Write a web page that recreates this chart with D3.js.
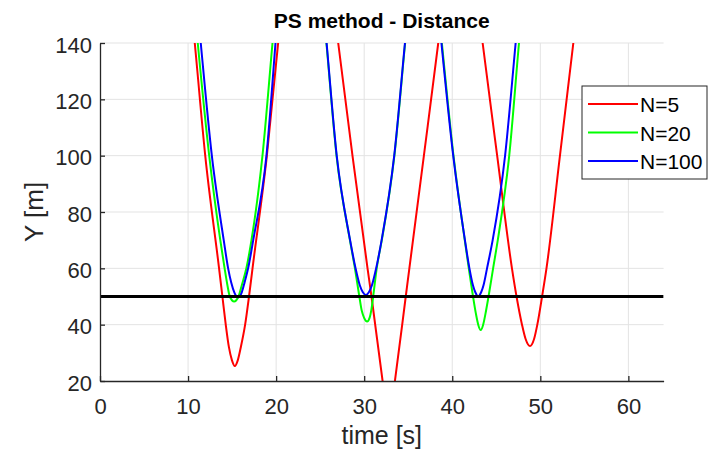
<!DOCTYPE html>
<html>
<head>
<meta charset="utf-8">
<script src="https://cdn.jsdelivr.net/npm/d3@7"></script>
<style>
  body { margin: 0; background: #fff; }
  text { font-family: 'Liberation Sans', Arial, sans-serif; }
</style>
</head>
<body>
<div id="chart"></div>
<script>
var timeTicks = [0, 10, 20, 30, 40, 50, 60]
var distTicks = [20, 40, 60, 80, 100, 120, 140]
var seriesNames = ['N=5', 'N=20', 'N=100']
var seriesColors = ['#ff0000', '#00ff00', '#0000ff']
var refLevel = 50

// N=5 (null splits the dips, the parts above 140 are off the chart)
var timeN5 = [10.45, 10.76, 11.95, 13.52, 13.90, 14.28, 14.64, 14.97, 15.31, 15.66, 15.99, 16.48, 16.92, 17.32, 18.95, 20.23, 20.53, null,
  26.66, 27.05, 28.67, 30.38, 30.83, 32.09, 32.45, 32.79, 33.13, 33.49, 34.72, 35.13, 36.78, 38.41, 38.80, null,
  43.05, 43.45, 45.10, 46.78, 47.30, 47.92, 48.32, 48.83, 49.30, 49.66, 50.20, 50.70, 52.23, 53.75, 54.13]
var distN5 = [150, 140, 100, 60, 50, 40, 32, 27.5, 25.3, 27.5, 32, 40, 50, 60, 100, 140, 150, null,
  150, 140, 100, 60, 50, 20, 12, 8, 12, 20, 50, 60, 100, 140, 150, null,
  150, 140, 100, 60, 50, 40, 35, 32.4, 35, 40, 50, 60, 100, 140, 150]

// N=20
var timeN20 = [10.80, 11.10, 12.40, 13.66, 14.15, 14.47, 14.74, 15.23, 15.72, 16.10, 16.62, 17.20, 18.45, 19.59, 19.88, null,
  25.42, 25.71, 26.86, 28.38, 28.95, 29.45, 29.72, 29.98, 30.33, 30.62, 30.80, 31.02, 31.42, 32.00, 33.43, 34.65, 34.96, null,
  38.50, 38.82, 40.14, 41.42, 41.88, 42.36, 42.68, 42.95, 43.23, 43.51, 43.78, 44.12, 44.64, 45.17, 46.47, 47.58, 47.87]
var distN20 = [150, 140, 100, 70, 60, 54, 50, 48.2, 50, 54, 60, 70, 100, 140, 150, null,
  150, 140, 100, 70, 60, 50, 45, 42.5, 41.1, 42.5, 45, 50, 60, 70, 100, 140, 150, null,
  150, 140, 100, 70, 60, 50, 44, 40, 38.1, 40, 44, 50, 60, 70, 100, 140, 150]

// N=100
var timeN100 = [11.14, 11.44, 12.70, 14.05, 14.55, 14.90, 15.25, 15.68, 16.10, 16.42, 16.82, 17.40, 18.90, 19.93, 20.18, null,
  25.44, 25.73, 26.88, 28.40, 29.02, 29.50, 29.85, 30.19, 30.53, 30.88, 31.36, 31.98, 33.41, 34.63, 34.94, null,
  38.45, 38.77, 40.11, 41.44, 41.95, 42.35, 42.62, 42.95, 43.28, 43.55, 43.95, 44.59, 46.00, 47.20, 47.50]
var distN100 = [150, 140, 100, 70, 60, 55, 51.5, 49.7, 51.5, 55, 60, 70, 100, 140, 150, null,
  150, 140, 100, 70, 60, 54, 51.5, 50.5, 51.5, 54, 60, 70, 100, 140, 150, null,
  150, 140, 100, 70, 60, 54, 51.5, 50, 51.5, 54, 60, 70, 100, 140, 150]

var seriesTimes = [timeN5, timeN20, timeN100]
var seriesDists = [distN5, distN20, distN100]

var width = 723
var height = 453
var plotLeft = 100
var plotRight = 663.6
var plotTop = 43
var plotBottom = 381
var axisColor = '#262626'

var x = d3.scaleLinear().domain([0, 64]).range([plotLeft, plotRight])
var y = d3.scaleLinear().domain([20, 140]).range([plotBottom, plotTop])

var svg = d3.select('#chart').append('svg')
  .attr('width', width)
  .attr('height', height)

svg.append('defs').append('clipPath')
  .attr('id', 'plotClip')
  .append('rect')
  .attr('x', plotLeft)
  .attr('y', plotTop)
  .attr('width', plotRight - plotLeft)
  .attr('height', plotBottom - plotTop)

// grid
var grid = svg.append('g').attr('class', 'grid')
grid.selectAll('line.gx')
  .data(timeTicks.filter(function (d) { return d > 0 }))
  .enter().append('line')
  .attr('class', 'gx')
  .attr('x1', function (d) { return x(d) })
  .attr('x2', function (d) { return x(d) })
  .attr('y1', plotTop)
  .attr('y2', plotBottom)
  .attr('stroke', '#e3e3e3')
  .attr('stroke-width', 1)
grid.selectAll('line.gy')
  .data(distTicks.filter(function (d) { return d > 20 }))
  .enter().append('line')
  .attr('class', 'gy')
  .attr('x1', plotLeft)
  .attr('x2', plotRight)
  .attr('y1', function (d) { return y(d) })
  .attr('y2', function (d) { return y(d) })
  .attr('stroke', '#e3e3e3')
  .attr('stroke-width', 1)

// curves
var line = d3.line()
  .defined(function (d) { return d.t != null })
  .x(function (d) { return x(d.t) })
  .y(function (d) { return y(d.v) })
  .curve(d3.curveMonotoneX)

var plot = svg.append('g').attr('clip-path', 'url(#plotClip)')
seriesNames.forEach(function (name, i) {
  var pts = seriesTimes[i].map(function (t, k) { return { t: t, v: seriesDists[i][k] } })
  plot.append('path')
    .datum(pts)
    .attr('d', line)
    .attr('fill', 'none')
    .attr('stroke', seriesColors[i])
    .attr('stroke-width', 2)
})

plot.append('line')
  .attr('x1', x(0))
  .attr('x2', x(64))
  .attr('y1', y(refLevel))
  .attr('y2', y(refLevel))
  .attr('stroke', '#000')
  .attr('stroke-width', 3)

// axes
var xAxis = d3.axisBottom(x).tickValues(timeTicks).tickSizeInner(-5).tickSizeOuter(0).tickPadding(17)
var yAxis = d3.axisLeft(y).tickValues(distTicks).tickSizeInner(-5).tickSizeOuter(0).tickPadding(8)

var gx = svg.append('g')
  .attr('transform', 'translate(0,' + plotBottom + ')')
  .call(xAxis)
var gy = svg.append('g')
  .attr('transform', 'translate(' + plotLeft + ',0)')
  .call(yAxis)

;[gx, gy].forEach(function (g) {
  g.select('.domain').attr('stroke', axisColor).attr('stroke-width', 1.3)
  g.selectAll('.tick line').attr('stroke', axisColor).attr('stroke-width', 1.3)
  g.selectAll('.tick text')
    .attr('fill', axisColor)
    .style('font-size', '22px')
    .style('font-family', "'Liberation Sans', Arial, sans-serif")
})
gy.selectAll('.tick text').attr('dy', '0.42em')

svg.append('text')
  .attr('x', (plotLeft + plotRight) / 2)
  .attr('y', 444)
  .attr('text-anchor', 'middle')
  .attr('fill', axisColor)
  .style('font-size', '25px')
  .text('time [s]')

svg.append('text')
  .attr('transform', 'translate(43,' + ((plotTop + plotBottom) / 2) + ') rotate(-90)')
  .attr('text-anchor', 'middle')
  .attr('fill', axisColor)
  .style('font-size', '26px')
  .text('Y [m]')

svg.append('text')
  .attr('x', (plotLeft + plotRight) / 2)
  .attr('y', 28)
  .attr('text-anchor', 'middle')
  .attr('fill', '#000')
  .style('font-size', '21px')
  .style('font-weight', 'bold')
  .text('PS method - Distance')

// legend
var legend = svg.append('g').attr('transform', 'translate(582,86)')
legend.append('rect')
  .attr('width', 125)
  .attr('height', 93)
  .attr('fill', '#fff')
  .attr('stroke', '#262626')
  .attr('stroke-width', 1)
seriesNames.forEach(function (name, i) {
  var ly = 18 + i * 28.5
  legend.append('line')
    .attr('x1', 6)
    .attr('x2', 56)
    .attr('y1', ly)
    .attr('y2', ly)
    .attr('stroke', seriesColors[i])
    .attr('stroke-width', 2)
  legend.append('text')
    .attr('x', 58)
    .attr('y', ly + 8)
    .attr('fill', '#000')
    .style('font-size', '21px')
    .text(name)
})
</script>
</body>
</html>
